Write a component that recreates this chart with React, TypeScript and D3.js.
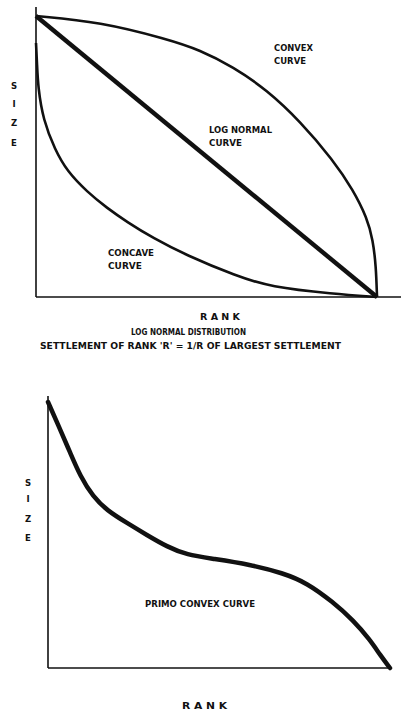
import React from "react";
import * as d3 from "d3";

// ---- Data (rank 0..100, size 0..100) ----
const convexRank = [0, 18.8, 38.4, 48.1, 57.8, 67.7, 77.4, 87.1, 93.0, 97.1, 98.8, 99.7, 100];
const convexSize = [100, 97.9, 91.8, 87.9, 81.9, 73.7, 62.6, 48.8, 38.1, 28.1, 20.3, 11.0, 0];

const logNormalRank = [0, 100];
const logNormalSize = [100, 0];

const concaveRank = [0, 0.3, 0.6, 2.1, 5.6, 9.1, 15.0, 20.8, 26.7, 34.3, 44.0, 58.7, 68.6, 87.1, 100];
const concaveSize = [90.4, 83.0, 74.7, 63.0, 52.3, 44.8, 37.4, 31.7, 26.7, 21.0, 14.9, 7.5, 3.6, 1.1, 0];

const primoRank = [0, 3.5, 6.4, 9.4, 13.2, 17.3, 23.1, 28.9, 34.8, 40.6, 48.2, 59.1, 68.7, 75.7, 83.3, 89.2, 94.2, 97.1, 100];
const primoSize = [100, 89.8, 81.2, 72.2, 64.3, 59.2, 54.5, 50.0, 45.6, 42.5, 41.1, 38.9, 35.7, 32.0, 24.8, 18.0, 10.5, 4.9, 0];

const sizeLetters = ["S", "I", "Z", "E"];
const axisLabel = "R A N K";
const topTitle = "LOG NORMAL DISTRIBUTION";
const topSubtitle = "SETTLEMENT OF RANK 'R' = 1/R OF LARGEST SETTLEMENT";
const convexLabel = ["CONVEX", "CURVE"];
const logNormalLabel = ["LOG NORMAL", "CURVE"];
const concaveLabel = ["CONCAVE", "CURVE"];
const primoLabel = "PRIMO CONVEX CURVE";

const zip = (xs: number[], ys: number[]) => xs.map((x, i) => [x, ys[i]] as [number, number]);

const FONT = "'DejaVu Sans', sans-serif";
const INK = "#111";

export default function App() {
  // top chart scales
  const x1 = d3.scaleLinear().domain([0, 100]).range([36, 377]);
  const y1 = d3.scaleLinear().domain([0, 100]).range([297, 16]);
  // bottom chart scales
  const x2 = d3.scaleLinear().domain([0, 100]).range([48, 390]);
  const y2 = d3.scaleLinear().domain([0, 100]).range([668, 402]);

  const line1 = d3
    .line<[number, number]>()
    .x((d) => x1(d[0]))
    .y((d) => y1(d[1]))
    .curve(d3.curveBasis);
  const line2 = d3
    .line<[number, number]>()
    .x((d) => x2(d[0]))
    .y((d) => y2(d[1]))
    .curve(d3.curveBasis);

  const txt = (
    s: string,
    x: number,
    y: number,
    w?: number,
    size = 8,
    anchor: "start" | "middle" = "start"
  ) => (
    <text
      key={s + x + y}
      x={x}
      y={y}
      fontFamily={FONT}
      fontSize={size}
      fontWeight="bold"
      fill={INK}
      textAnchor={anchor}
      textLength={w}
      lengthAdjust={w ? "spacingAndGlyphs" : undefined}
    >
      {s}
    </text>
  );

  return (
    <svg
      width={401}
      height={710}
      style={{ position: "absolute", left: 0, top: 0, background: "#fff" }}
    >
      {/* ---------- Top chart ---------- */}
      <line x1={x1(0)} x2={x1(0)} y1={7} y2={y1(0)} stroke={INK} strokeWidth={1.6} />
      <line x1={x1(0)} x2={401} y1={y1(0)} y2={y1(0)} stroke={INK} strokeWidth={1.6} />

      <path d={line1(zip(convexRank, convexSize)) || ""} fill="none" stroke={INK} strokeWidth={2.6} />
      <path d={line1(zip(concaveRank, concaveSize)) || ""} fill="none" stroke={INK} strokeWidth={2.6} />
      <path d={d3.line<[number, number]>().x((d) => x1(d[0])).y((d) => y1(d[1]))(zip(logNormalRank, logNormalSize)) || ""} fill="none" stroke={INK} strokeWidth={4.4} />

      {sizeLetters.map((l, i) => txt(l, 14, [88.5, 106.5, 125.5, 145.5][i], undefined, 8.5, "middle"))}
      {txt(convexLabel[0], 274, 50.5, 39, 8.5)}
      {txt(convexLabel[1], 274, 63.5, 32, 8.5)}
      {txt(logNormalLabel[0], 209, 132.5, 63, 8.5)}
      {txt(logNormalLabel[1], 209, 145.5, 33, 8.5)}
      {txt(concaveLabel[0], 108, 255.5, 46, 8.5)}
      {txt(concaveLabel[1], 108, 268.5, 34, 8.5)}

      {txt(axisLabel, 200, 320, 40, 8)}
      {txt(topTitle, 131, 335, 115, 8)}
      {txt(topSubtitle, 40, 349, 301, 8)}

      {/* ---------- Bottom chart ---------- */}
      <line x1={x2(0)} x2={x2(0)} y1={396} y2={y2(0)} stroke={INK} strokeWidth={1.6} />
      <line x1={x2(0)} x2={392} y1={y2(0)} y2={y2(0)} stroke={INK} strokeWidth={1.6} />
      <path d={line2(zip(primoRank, primoSize)) || ""} fill="none" stroke={INK} strokeWidth={4.5} strokeLinecap="round" />

      {sizeLetters.map((l, i) => txt(l, 28, [486, 502, 521.5, 541][i], undefined, 8.5, "middle"))}
      {txt(primoLabel, 145, 606.5, 110, 8.5)}
      {txt(axisLabel, 182, 708.5, 45, 8)}
    </svg>
  );
}
